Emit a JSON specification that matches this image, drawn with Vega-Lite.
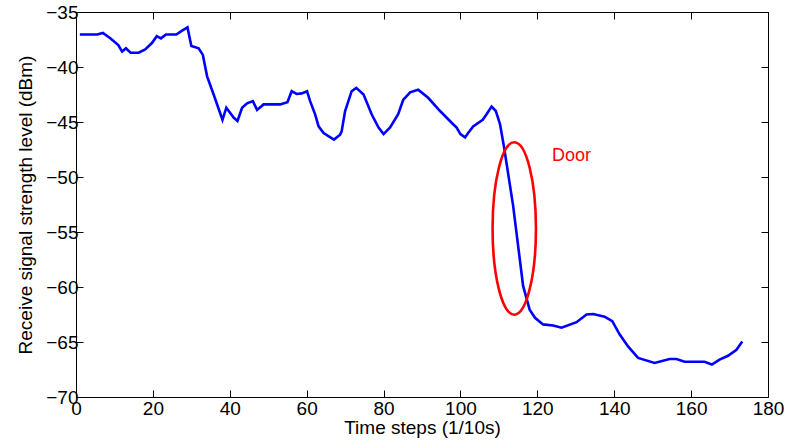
{
  "$schema": "https://vega.github.io/schema/vega-lite/v6.json",
  "autosize": {"type": "none"},
  "width": 692,
  "height": 385,
  "padding": {"left": 76, "top": 12, "right": 20, "bottom": 50},
  "background": "white",
  "config": {
    "view": {"stroke": "black", "strokeWidth": 1},
    "font": "Liberation Sans",
    "axis": {
      "domain": false,
      "grid": false,
      "ticks": true,
      "tickColor": "black",
      "tickSize": -7,
      "labelFlush": false,
      "labelOverlap": false,
      "labelFont": "Liberation Sans",
      "labelFontSize": 19,
      "labelColor": "black",
      "titleFont": "Liberation Sans",
      "titleFontSize": 19,
      "titleFontWeight": "normal",
      "titleColor": "black"
    }
  },
  "datasets": {
    "rss": [
      {"t": 1, "v": -37.05}, {"t": 5.5, "v": -37.05}, {"t": 7, "v": -36.9}, {"t": 9, "v": -37.4},
      {"t": 11, "v": -38.0}, {"t": 12, "v": -38.6}, {"t": 13, "v": -38.3}, {"t": 14.2, "v": -38.7},
      {"t": 16.3, "v": -38.7}, {"t": 18, "v": -38.4}, {"t": 19.8, "v": -37.8}, {"t": 21, "v": -37.2},
      {"t": 22.1, "v": -37.4}, {"t": 23.4, "v": -37.05}, {"t": 26.1, "v": -37.05}, {"t": 27.6, "v": -36.7},
      {"t": 29, "v": -36.4}, {"t": 30, "v": -38.1}, {"t": 31.9, "v": -38.3}, {"t": 33, "v": -38.9},
      {"t": 34.1, "v": -40.85}, {"t": 35.8, "v": -42.5}, {"t": 38.1, "v": -44.8}, {"t": 39.1, "v": -43.7},
      {"t": 41, "v": -44.6}, {"t": 42, "v": -44.9}, {"t": 43.2, "v": -43.7}, {"t": 44.5, "v": -43.3},
      {"t": 46, "v": -43.1}, {"t": 47.1, "v": -43.9}, {"t": 48.8, "v": -43.4}, {"t": 53.1, "v": -43.4},
      {"t": 55, "v": -43.2}, {"t": 56.1, "v": -42.2}, {"t": 57.4, "v": -42.45}, {"t": 58.7, "v": -42.4},
      {"t": 60.1, "v": -42.2}, {"t": 60.9, "v": -43.1}, {"t": 62.2, "v": -44.3}, {"t": 63.1, "v": -45.4},
      {"t": 64.4, "v": -46.0}, {"t": 67.1, "v": -46.6}, {"t": 68.7, "v": -46.15}, {"t": 69.1, "v": -45.85},
      {"t": 70, "v": -44.0}, {"t": 71.7, "v": -42.2}, {"t": 72.9, "v": -41.9}, {"t": 74.8, "v": -42.5},
      {"t": 76.9, "v": -44.3}, {"t": 78.7, "v": -45.5}, {"t": 80, "v": -46.1}, {"t": 81.7, "v": -45.5},
      {"t": 83.8, "v": -44.3}, {"t": 85.1, "v": -43.0}, {"t": 86.9, "v": -42.3}, {"t": 89, "v": -42.06},
      {"t": 91.6, "v": -42.8}, {"t": 94.7, "v": -44.0}, {"t": 98.1, "v": -45.2}, {"t": 99, "v": -45.5},
      {"t": 100, "v": -46.1}, {"t": 101.2, "v": -46.4}, {"t": 102, "v": -46.0}, {"t": 103.3, "v": -45.4},
      {"t": 105.8, "v": -44.8}, {"t": 106.8, "v": -44.3}, {"t": 108.1, "v": -43.6}, {"t": 109.2, "v": -44.0},
      {"t": 110.3, "v": -45.2}, {"t": 111.3, "v": -47.2}, {"t": 113.7, "v": -52.6}, {"t": 116.3, "v": -59.9},
      {"t": 118, "v": -62.06}, {"t": 119.4, "v": -62.8}, {"t": 121.5, "v": -63.4}, {"t": 124.1, "v": -63.5},
      {"t": 126.3, "v": -63.7}, {"t": 130.2, "v": -63.2}, {"t": 132.8, "v": -62.5}, {"t": 134.5, "v": -62.45},
      {"t": 137.5, "v": -62.7}, {"t": 139.5, "v": -63.1}, {"t": 141.4, "v": -64.3}, {"t": 143.6, "v": -65.4},
      {"t": 146.2, "v": -66.45}, {"t": 150.5, "v": -66.9}, {"t": 154.4, "v": -66.55}, {"t": 156.2, "v": -66.55},
      {"t": 158.3, "v": -66.8}, {"t": 163.5, "v": -66.8}, {"t": 165.4, "v": -67.05}, {"t": 167.4, "v": -66.6},
      {"t": 169.6, "v": -66.25}, {"t": 171.8, "v": -65.7}, {"t": 173.3, "v": -64.95}
    ],
    "door": [{"t": 114.0, "v": -54.68}],
    "label": [{"t": 123.8, "v": -48.1, "text": "Door"}]
  },
  "layer": [
    {
      "data": {"name": "rss"},
      "mark": {"type": "line", "color": "#0000FF", "strokeWidth": 2.6, "interpolate": "linear"},
      "encoding": {
        "x": {"field": "t", "type": "quantitative", "scale": {"domain": [0, 180], "nice": false},
              "axis": {"values": [0, 20, 40, 60, 80, 100, 120, 140, 160, 180], "title": "Time steps (1/10s)", "labelPadding": 9, "titlePadding": 0}},
        "y": {"field": "v", "type": "quantitative", "scale": {"domain": [-70, -35], "nice": false, "zero": false},
              "axis": {"values": [-70, -65, -60, -55, -50, -45, -40, -35], "title": "Receive signal strength level (dBm)", "labelPadding": 5, "titlePadding": 10}}
      }
    },
    {
      "data": {"name": "door"},
      "mark": {"type": "point", "shape": "M0,-1A0.2517,1 0 1,1 0,1A0.2517,1 0 1,1 0,-1Z", "size": 29722, "filled": false, "stroke": "#FF0000", "strokeWidth": 2.6, "opacity": 1},
      "encoding": {
        "x": {"field": "t", "type": "quantitative", "axis": {"orient": "top", "labels": false, "title": null, "values": [0, 20, 40, 60, 80, 100, 120, 140, 160, 180]}},
        "y": {"field": "v", "type": "quantitative", "axis": {"orient": "right", "labels": false, "title": null, "values": [-70, -65, -60, -55, -50, -45, -40, -35]}}
      }
    },
    {
      "data": {"name": "label"},
      "mark": {"type": "text", "color": "#FF0000", "fontSize": 18, "align": "left", "baseline": "middle", "font": "Liberation Sans"},
      "encoding": {
        "x": {"field": "t", "type": "quantitative", "axis": null},
        "y": {"field": "v", "type": "quantitative", "axis": null},
        "text": {"field": "text"}
      }
    }
  ],
  "resolve": {"axis": {"x": "independent", "y": "independent"}}
}
